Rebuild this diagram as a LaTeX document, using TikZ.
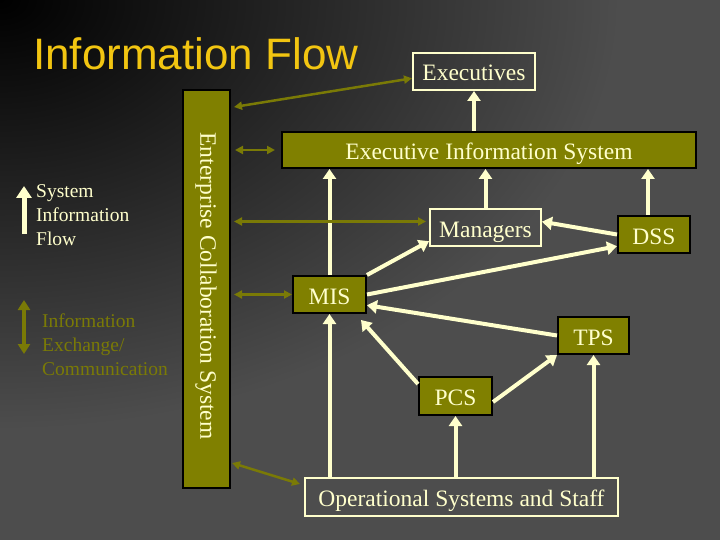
\documentclass[tikz,border=0pt]{standalone}
\usepackage{fontspec}
\setmainfont{Liberation Serif}
\newfontfamily\titlefont{Liberation Sans}
\usetikzlibrary{arrows.meta,calc}
\definecolor{bg}{HTML}{4D4D4D}
\definecolor{cream}{HTML}{FFFFCC}
\definecolor{olivebox}{HTML}{808000}
\definecolor{oliveline}{HTML}{7A7A06}
\definecolor{gold}{HTML}{F2C511}
\tikzset{
  boxtext/.style={font=\fontsize{23.5}{26}\selectfont, text=cream, inner sep=0pt, text height=19pt, text depth=0pt},
  olivenode/.style={boxtext, fill=olivebox, draw=black, line width=2pt},
  creamnode/.style={boxtext, draw=cream, line width=2pt},
  flow/.style={draw=cream, line width=4pt, -{Triangle[length=10pt,width=13pt]}},
  xchg/.style={draw=oliveline, line width=2.5pt, {Triangle[length=8pt,width=8pt]}-{Triangle[length=8pt,width=8pt]}},
  legendtext/.style={font=\fontsize{19.5}{24}\selectfont, align=left, inner sep=0pt, anchor=north west}
}
\begin{document}
\begin{tikzpicture}[x=1pt,y=-1pt]
\useasboundingbox (0,0) rectangle (720,540);
\fill[bg] (0,0) rectangle (720,540);
\begin{scope}
\clip (0,0) rectangle (720,540);
\shade[inner color=black, outer color=bg] (0,0) ellipse [x radius=620, y radius=430];
\end{scope}

% title
\node[anchor=base west, inner sep=0pt, text=gold, font=\titlefont\fontsize{44}{48}\selectfont] (title) at (33,70) {Information Flow};

% nodes
\node[olivenode, minimum width=47pt, minimum height=398pt] (ecs) at (206.5,289) {};
\node[font=\fontsize{23.5}{26}\selectfont, text=cream, inner sep=0pt, rotate=-90] (ecslabel) at (206,286) {Enterprise Collaboration System};
\node[creamnode, minimum width=122pt, minimum height=37pt] (exec) at (474,71.5) {Executives};
\node[olivenode, minimum width=414pt, minimum height=36pt] (eis) at (489,150) {Executive Information System};
\node[creamnode, minimum width=111pt, minimum height=37pt] (mgr) at (485.5,227.5) {Managers};
\node[olivenode, minimum width=72pt, minimum height=37pt] (dss) at (654,234.5) {DSS};
\node[olivenode, minimum width=73pt, minimum height=37pt] (mis) at (329.5,294.5) {MIS};
\node[olivenode, minimum width=71pt, minimum height=37pt] (tps) at (593.5,335.5) {TPS};
\node[olivenode, minimum width=73pt, minimum height=38pt] (pcs) at (455.5,396) {PCS};
\node[creamnode, minimum width=313pt, minimum height=38pt] (ops) at (461.5,497) {Operational Systems and Staff};

% system information flow arrows
\coordinate (dsstop) at ($(dss.north)+(-6,0)$);
\draw[flow] (exec.south |- eis.north) -- (exec.south);
\draw[flow] (mis.north) -- (mis.north |- eis.south);
\draw[flow] (mgr.north) -- (mgr.north |- eis.south);
\draw[flow] (dsstop) -- (dsstop |- eis.south);
\draw[flow] (mis.south |- ops.north) -- (mis.south);
\draw[flow] (pcs.south |- ops.north) -- (pcs.south);
\draw[flow] (tps.south |- ops.north) -- (tps.south);
\draw[flow] (mis.north east) -- ($(mgr.south west)!0.3!(mgr.west)$);
\draw[flow] (mis.east) -- ($(dss.south west)!0.4!(dss.west)$);
\draw[flow] (dss.west) -- ($(mgr.east)!0.3!(mgr.north east)$);
\draw[flow] (tps.west) -- ($(mis.east)!0.55!(mis.south east)$);
\draw[flow] ($(pcs.north west)!0.4!(pcs.west)$) -- ($(mis.south east)+(-6,6)$);
\draw[flow] ($(pcs.east)!0.3!(pcs.south east)$) -- (tps.south west);

% information exchange arrows
\draw[xchg] ($(ecs.north east)+(3,18)$) -- ($(exec.west)!0.35!(exec.south west)$);
\draw[xchg] ($(ecs.east |- eis.west)+(4,0)$) -- ($(eis.west)+(-6,0)$);
\draw[xchg] ($(ecs.east |- mgr.west)+(3,-6)$) -- ($(mgr.west)+(-3,-6)$);
\draw[xchg] ($(ecs.east |- mis.west)+(3,0)$) -- (mis.west);
\draw[xchg] ($(ecs.south east)+(1,-26)$) -- ($(ops.north west)+(-4,7)$);

% legend
\coordinate (lega) at (24,234);
\coordinate (legb) at (24,186);
\draw[draw=cream, line width=5pt, -{Triangle[length=12pt,width=15pt]}] (lega) -- (legb);
\node[legendtext, text=cream] (legtext1) at (36,184) {System\\Information\\Flow};
\coordinate (legc) at (24,300);
\coordinate (legd) at (24,354);
\draw[draw=oliveline, line width=3.5pt, {Triangle[length=10pt,width=12pt]}-{Triangle[length=10pt,width=12pt]}] (legc) -- (legd);
\node[legendtext, text=oliveline] (legtext2) at (42,314) {Information\\Exchange/\\Communication};
\end{tikzpicture}
\end{document}
